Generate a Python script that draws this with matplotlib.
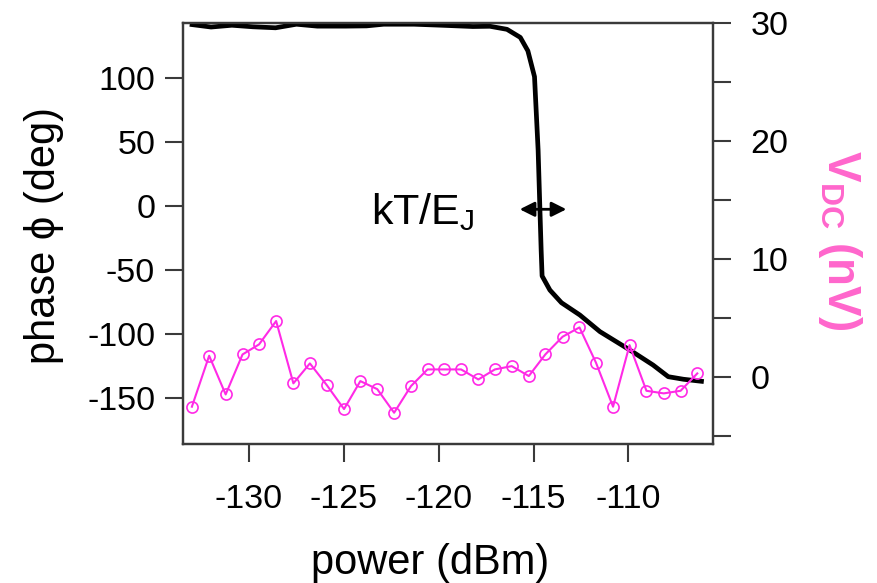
import numpy as np
import matplotlib
matplotlib.use('Agg')
import matplotlib.pyplot as plt
from matplotlib.ticker import MultipleLocator

plt.rcParams['font.family'] = ['Liberation Sans', 'DejaVu Sans']
plt.rcParams['mathtext.fontset'] = 'custom'
plt.rcParams['mathtext.rm'] = 'Liberation Sans'
plt.rcParams['mathtext.bf'] = 'Liberation Sans:bold'
plt.rcParams['axes.unicode_minus'] = False

# phase vs power (black, left axis)
power_phase = [-133.0, -132.0, -130.9, -129.8, -128.6, -127.5, -126.4, -124.9, -123.8,
               -122.9, -121.3, -119.85, -118.2, -117.3, -116.4, -115.7, -115.3, -114.95,
               -114.76, -114.6, -114.55, -114.14, -113.53, -112.56, -111.5, -109.93,
               -108.7, -107.9, -107.1, -106.15]
phase = [141.5, 139.6, 141.0, 139.8, 139.0, 141.8, 140.3, 140.3, 140.5,
         141.8, 141.8, 141.0, 140.0, 140.2, 137.8, 131.5, 121.0, 100.8,
         43.5, -34.7, -54.9, -65.9, -75.8, -85.4, -98.4, -112.7,
         -124.5, -133.6, -135.6, -137.2]

# dc voltage vs power (magenta, right axis)
power_vdc = [-133.01, -132.10, -131.23, -130.34, -129.47, -128.57, -127.66, -126.79,
             -125.90, -124.99, -124.13, -123.24, -122.35, -121.46, -120.59, -119.70,
             -118.82, -117.91, -117.04, -116.15, -115.25, -114.38, -113.47, -112.58,
             -111.71, -110.81, -109.94, -109.05, -108.14, -107.25, -106.37]
vdc = [-2.54, 1.78, -1.50, 1.89, 2.74, 4.72, -0.56, 1.13, -0.71, -2.74, -0.37,
       -1.05, -3.05, -0.79, 0.62, 0.62, 0.62, -0.23, 0.62, 0.90, 0.06, 1.89,
       3.39, 4.18, 1.19, -2.54, 2.68, -1.19, -1.41, -1.19, 0.28]

xticks = [-130, -125, -120, -115, -110]
yticks_left = [100, 50, 0, -50, -100, -150]
yticks_right = [0, 10, 20, 30]

spine_col = '#3a3a3a'
pink = '#ff66cc'
magenta = '#ff2ae6'

fig = plt.figure(figsize=(8.78, 5.83), dpi=100)
ax = fig.add_axes([0.2084, 0.2384, 0.6037, 0.7227])
ax2 = ax.twinx()

ax.plot(power_phase, phase, color='black', lw=3.4, solid_joinstyle='round', zorder=3)
ax2.plot(power_vdc, vdc, color=magenta, lw=1.5, marker='o', ms=8,
         mfc='none', mec=magenta, mew=1.2)

ax.set_xlim(-133.48, -105.54)
ax.set_ylim(-186.2, 143)
ax2.set_ylim(-5.7, 30)

ax.set_xticks(xticks)
ax.set_yticks(yticks_left)
ax2.set_yticks(yticks_right)
ax2.yaxis.set_minor_locator(MultipleLocator(5))

for a in (ax, ax2):
    for s in a.spines.values():
        s.set_color(spine_col)
        s.set_linewidth(1.6)

ax.tick_params(axis='both', which='both', direction='out', length=13, width=1.5,
               color=spine_col, labelsize=24.5, right=False, top=False)
ax.tick_params(axis='x', pad=16)
ax.tick_params(axis='y', pad=7)
ax2.tick_params(axis='y', which='both', direction='out', length=13, width=1.5,
                color=spine_col, labelsize=24.5, pad=14)

ax.set_xlabel('power (dBm)', fontsize=30, va='center')
ax.xaxis.set_label_coords(0.466, -0.283)
ax.set_ylabel('phase \u03d5 (deg)', fontsize=30, va='center')
ax.yaxis.set_label_coords(-0.262, 0.496)
ax2.set_ylabel(r'$\mathbf{V_{DC}}$ (nV)', fontsize=33, fontweight='bold',
               color=pink, rotation=270, va='center', ha='center')
ax2.yaxis.set_label_coords(1.24, 0.484)

ax.text(-123.57, -14.5, r'kT/E$_\mathregular{J}$', fontsize=31, ha='left', va='baseline')
ax.annotate('', xy=(-113.27, -2.8), xytext=(-115.73, -2.8),
            arrowprops=dict(arrowstyle='<|-|>', color='black', lw=2,
                            mutation_scale=22, shrinkA=0, shrinkB=0))

fig.savefig('out.png', dpi=100)
